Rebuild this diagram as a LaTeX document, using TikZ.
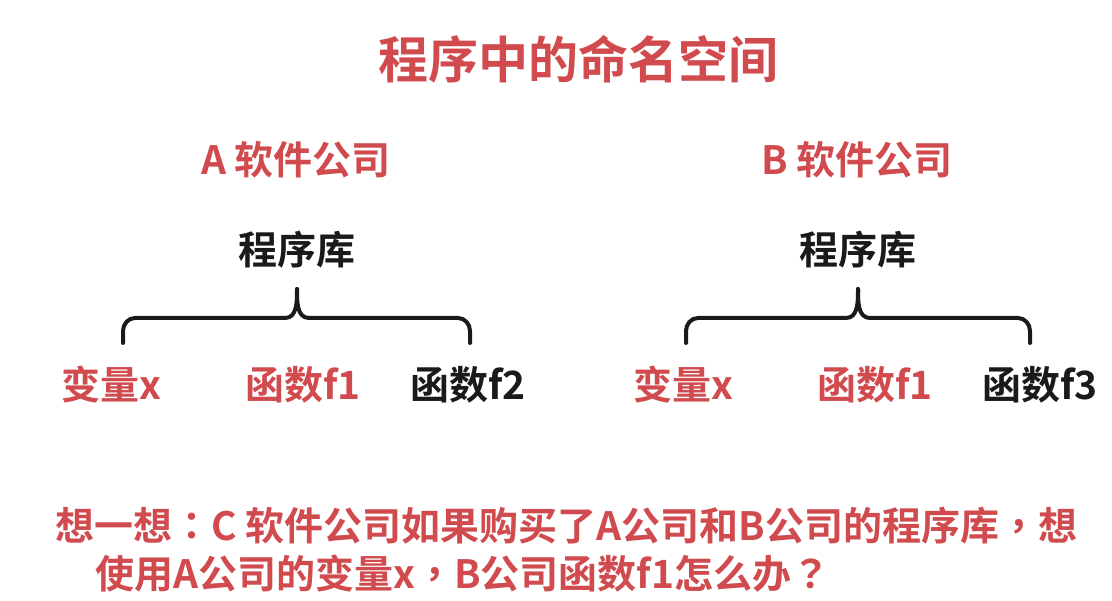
\documentclass[tikz,border=0pt]{standalone}
\usepackage{fontspec}
\setmainfont{Noto Sans CJK SC Bold}
\newfontfamily\tcpunct{Noto Sans CJK TC Bold}
\definecolor{cred}{RGB}{208,74,78}
\definecolor{cblack}{RGB}{26,26,26}
\tikzset{
  txt/.style={inner sep=0pt, font=\fontsize{39}{42}\selectfont},
  redtxt/.style={txt, text=cred},
  blktxt/.style={txt, text=cblack},
  bracepath/.style={draw=cblack, line width=4pt, line cap=round, line join=round}
}
\begin{document}
\begin{tikzpicture}[x=1pt,y=-1pt]
\useasboundingbox[fill=white] (0,0) rectangle (1112,601);
\node[redtxt, font=\fontsize{50}{52}\selectfont] (title) at (578,59) {程序中的命名空间};
\node[redtxt] (ca) at (296,160) {A 软件公司};
\node[redtxt] (cb) at (857,160) {B 软件公司};
\node[blktxt] (liba) at (297,250) {程序库};
\node[blktxt] (libb) at (858,250) {程序库};
% braces
\coordinate (ta) at (297,289);
\coordinate (tb) at (858,289);
\draw[bracepath] (123,343) -- (123,331) to[out=90,in=180] (135,318) -- (285,318) to[out=0,in=270] (ta);
\draw[bracepath] (470,343) -- (470,331) to[out=90,in=0] (458,318) -- (309,318) to[out=180,in=270] (ta);
\draw[bracepath] (686,343) -- (686,331) to[out=90,in=180] (698,318) -- (846,318) to[out=0,in=270] (tb);
\draw[bracepath] (1030,343) -- (1030,331) to[out=90,in=0] (1018,318) -- (870,318) to[out=180,in=270] (tb);
\node[redtxt] (va) at (111,385) {变量x};
\node[redtxt] (f1a) at (303,385) {函数f1};
\node[blktxt] (f2a) at (468,385) {函数f2};
\node[redtxt] (vb) at (683,385) {变量x};
\node[redtxt] (f1b) at (875,385) {函数f1};
\node[blktxt] (f3b) at (1040,385) {函数f3};
\node[redtxt, anchor=west] (q1) at (55,526) {想一想{\tcpunct ：}C 软件公司如果购买了A公司和B公司的程序库{\tcpunct ，}想};
\node[redtxt, anchor=west] (q2) at (95,574) {使用A公司的变量x{\tcpunct ，}B公司函数f1怎么办{\tcpunct ？}};
\end{tikzpicture}
\end{document}
